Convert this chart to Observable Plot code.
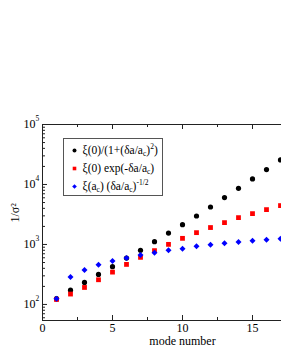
<!DOCTYPE html>
<html>
<head>
<meta charset="utf-8">
<script src="https://cdn.jsdelivr.net/npm/d3@7"></script>
<script src="https://cdn.jsdelivr.net/npm/@observablehq/plot@0.6"></script>
<style>
  html, body { margin: 0; padding: 0; background: #fff; }
  #wrap { position: relative; width: 281px; height: 363px; overflow: hidden; }
  #wrap > svg { max-width: none !important; width: 322px; height: 363px; }
  #legend { position: absolute; left: 63px; top: 138px; width: 100px; height: 58px;
    border: 1px solid #555; background: #fff; box-sizing: border-box;
    font-family: "Liberation Serif", "DejaVu Serif", serif; font-size: 11.5px; color: #000; }
  .row { position: absolute; left: 0; height: 14px; line-height: 14px; white-space: nowrap; }
  .row .mk { position: absolute; left: 6.5px; top: 3.5px; width: 7px; height: 7px; }
  .row .tx { position: absolute; left: 18.5px; top: 0; }
  sub, sup { font-size: 7.5px; line-height: 0; }
  sub { vertical-align: -2px; }
  sup { vertical-align: 5px; }
</style>
</head>
<body>
<div id="wrap"></div>
<script>
const modes = [1,2,3,4,5,6,7,8,9,10,11,12,13,14,15,16,17];
const lorentz = [125,173,233,317,426,593,798,1114,1550,2141,2981,4210,6040,8640,12360,17740,25650];
const expo    = [121,149,192,258,346,465,610,789,1004,1265,1574,1915,2312,2801,3266,3809,4446];
const power   = [125,286,374,460,528,593,665,729,798,852,930,993,1043,1096,1157,1202,1250];
const legendLabels = [
  "ξ(0)/(1+(δa/a<sub>c</sub>)<sup>2</sup>)",
  "ξ(0) exp(-δa/a<sub>c</sub>)",
  "ξ(a<sub>c</sub>) (δa/a<sub>c</sub>)<sup>-1/2</sup>"
];
const colors = ["#000000", "#ff0000", "#0000ff"];
const symbols = ["circle", "square", "diamond2"];
const xMajor = [0, 5, 10, 15, 20];
const xMinor = [2.5, 7.5, 12.5, 17.5];
const xLabels = [0, 5, 10, 15];
const yMajor = [100, 1000, 10000, 100000];
const yMinor = [];
for (const d of [10, 100, 1000, 10000]) for (let k = 2; k <= 9; k++) { if (k*d >= 54) yMinor.push(k*d); }

const seriesList = [lorentz, expo, power];
const rows = seriesList.map((s, i) => modes.map((m, j) => ({mode: m, value: s[j], s: i})));

const serif = "Liberation Serif, DejaVu Serif, serif";
const fh = 320 - 124, fw = 322 - 42;

const chart = Plot.plot({
  width: 322, height: 363,
  marginLeft: 42, marginRight: 0, marginTop: 124, marginBottom: 43,
  style: {fontFamily: serif, background: "transparent", maxWidth: "none"},
  x: {domain: [0, 20], axis: null},
  y: {type: "log", domain: [54, 100000], axis: null},
  marks: [
    Plot.ruleX([0], {stroke: "#222", strokeWidth: 1}),
    Plot.ruleY([54, 100000], {stroke: "#222", strokeWidth: 1}),
    Plot.ruleX(xMajor, {x: d => d, insetTop: fh - 5, stroke: "#222"}),
    Plot.ruleX(xMinor, {x: d => d, insetTop: fh - 3, stroke: "#222"}),
    Plot.ruleX(xMajor, {x: d => d, insetBottom: fh - 5, stroke: "#222"}),
    Plot.ruleX(xMinor, {x: d => d, insetBottom: fh - 3, stroke: "#222"}),
    Plot.ruleY(yMajor, {y: d => d, insetRight: fw - 5, stroke: "#222"}),
    Plot.ruleY(yMinor, {y: d => d, insetRight: fw - 3, stroke: "#222"}),
    Plot.text(xLabels, {x: d => d, frameAnchor: "bottom", dy: 7.5, lineAnchor: "middle", text: d => String(d), fontSize: 12}),
    Plot.text(yMajor, {y: d => d, frameAnchor: "left", dx: -7, dy: 0, textAnchor: "end", text: () => "10", fontSize: 12}),
    Plot.text(yMajor, {y: d => d, frameAnchor: "left", dx: -7, dy: -6, textAnchor: "start", text: d => String(Math.round(Math.log10(d))), fontSize: 7.5}),
    Plot.text(["mode number"], {frameAnchor: "bottom", dy: 20.5, lineAnchor: "middle", text: d => d, fontSize: 12}),
    Plot.text(["1/σ²"], {frameAnchor: "left", dx: -27, rotate: -90, text: d => d, fontSize: 12}),
    ...rows.map((r, i) => Plot.dot(r, {x: "mode", y: "value", symbol: () => symbols[i], fill: colors[i], stroke: "none", r: i === 0 ? 2.6 : 2.7}))
  ],
  symbol: {type: "identity"}
});

const wrap = document.getElementById("wrap");
wrap.appendChild(chart);
chart.style.position = "absolute"; chart.style.left = "0"; chart.style.top = "0";

const legend = document.createElement("div");
legend.id = "legend";
const rowTops = [4, 22, 40];
const markerSvg = (i) => {
  const c = colors[i];
  if (i === 0) return `<svg class="mk" viewBox="0 0 7 7"><circle cx="3.5" cy="3.5" r="2" fill="${c}"/></svg>`;
  if (i === 1) return `<svg class="mk" viewBox="0 0 7 7"><rect x="1.7" y="1.7" width="3.6" height="3.6" fill="${c}"/></svg>`;
  return `<svg class="mk" viewBox="0 0 7 7"><path d="M3.5 1.2 L5.8 3.5 L3.5 5.8 L1.2 3.5Z" fill="${c}"/></svg>`;
};
legend.innerHTML = legendLabels.map((t, i) =>
  `<div class="row" style="top:${rowTops[i]}px">${markerSvg(i)}<span class="tx">${t}</span></div>`).join("");
wrap.appendChild(legend);
</script>
</body>
</html>
